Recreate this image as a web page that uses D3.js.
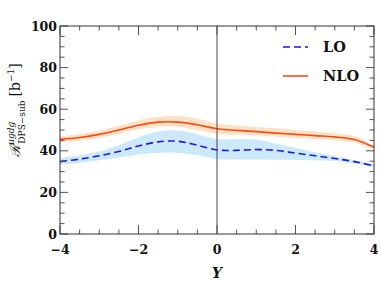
<!DOCTYPE html>
<html>
<head>
<meta charset="utf-8">
<script src="https://cdn.jsdelivr.net/npm/d3@7"></script>
<style>
  body { margin: 0; background: #fff; }
  text { font-family: "DejaVu Serif", serif; }
</style>
</head>
<body>
<div id="chart"></div>
<script>
// rapidity grid and values
var rapidity = [-4, -3.5, -3, -2.5, -2, -1.5, -1, -0.5, 0, 0.5, 1, 1.5, 2, 2.5, 3, 3.5, 4];

var loCentral = [34.8, 36.0, 37.6, 39.7, 42.3, 44.3, 44.6, 42.7, 40.4, 40.2, 40.6, 40.2, 38.9, 37.6, 36.3, 34.8, 32.7];
var loUpper   = [36.5, 37.9, 39.7, 42.7, 46.4, 49.3, 49.8, 48.0, 45.6, 45.5, 45.3, 43.5, 41.3, 39.3, 37.4, 35.6, 33.5];
var loLower   = [33.2, 34.2, 35.4, 36.8, 38.2, 39.1, 39.0, 38.0, 36.1, 35.8, 35.8, 35.7, 35.6, 35.4, 35.1, 34.0, 32.0];

var nloCentral = [45.5, 46.4, 47.9, 50.0, 52.3, 53.8, 53.8, 52.5, 50.6, 49.8, 49.2, 48.5, 47.9, 47.3, 46.7, 45.4, 41.7];
var nloUpper   = [47.0, 48.0, 49.7, 52.0, 54.6, 56.4, 56.7, 55.4, 53.1, 52.2, 51.5, 50.8, 50.0, 49.3, 48.4, 47.0, 42.6];
var nloLower   = [44.0, 44.8, 46.1, 48.2, 50.3, 51.6, 51.5, 50.0, 48.1, 47.7, 47.4, 46.8, 46.2, 45.7, 45.1, 44.0, 40.9];

var xTicks = [-4, -2, 0, 2, 4];
var yTicks = [0, 20, 40, 60, 80, 100];
var legendLabels = ["LO", "NLO"];

var margin = { top: 26, right: 7, bottom: 54, left: 60 };
var width = 381 - margin.left - margin.right,
    height = 288 - margin.top - margin.bottom;

var svg = d3.select("#chart").append("svg")
    .attr("width", 381)
    .attr("height", 288)
    .append("g")
    .attr("transform", "translate(" + margin.left + "," + margin.top + ")");

var x = d3.scaleLinear().domain([-4, 4]).range([0, width]);
var y = d3.scaleLinear().domain([0, 100]).range([height, 0]);

var pts = function (arr) { return arr.map(function (v, i) { return [rapidity[i], v]; }); };

var area = d3.area()
    .x(function (d, i) { return x(rapidity[i]); })
    .y0(function (d) { return y(d[0]); })
    .y1(function (d) { return y(d[1]); })
    .curve(d3.curveCatmullRom.alpha(0.5));

var line = d3.line()
    .x(function (d) { return x(d[0]); })
    .y(function (d) { return y(d[1]); })
    .curve(d3.curveCatmullRom.alpha(0.5));

// bands
svg.append("path")
    .datum(loLower.map(function (v, i) { return [v, loUpper[i]]; }))
    .attr("d", area)
    .attr("fill", "#cce8fb");

svg.append("path")
    .datum(nloLower.map(function (v, i) { return [v, nloUpper[i]]; }))
    .attr("d", area)
    .attr("fill", "#fde0c4")
    .attr("fill-opacity", 0.95);

// central lines
svg.append("path")
    .datum(pts(loCentral))
    .attr("d", line)
    .attr("fill", "none")
    .attr("stroke", "#1a1ae6")
    .attr("stroke-width", 1.6)
    .attr("stroke-dasharray", "7,4");

svg.append("path")
    .datum(pts(nloCentral))
    .attr("d", line)
    .attr("fill", "none")
    .attr("stroke", "#ff4a12")
    .attr("stroke-width", 1.6);

// zero line
svg.append("line")
    .attr("x1", x(0)).attr("x2", x(0))
    .attr("y1", 0).attr("y2", height)
    .attr("stroke", "#444")
    .attr("stroke-width", 1);

// ticks (inside, on all sides)
var tickColor = "#555";
var xMinor = d3.range(-4, 4.01, 0.5);
var yMinor = d3.range(0, 100.01, 5);

function isMajor(v, step) { return Math.abs(v / step - Math.round(v / step)) < 1e-6; }

svg.selectAll(".xtick-b").data(xMinor).enter().append("line")
    .attr("x1", function (d) { return x(d); }).attr("x2", function (d) { return x(d); })
    .attr("y1", height).attr("y2", function (d) { return height - (isMajor(d, 2) ? 9 : 4.5); })
    .attr("stroke", tickColor);
svg.selectAll(".xtick-t").data(xMinor).enter().append("line")
    .attr("x1", function (d) { return x(d); }).attr("x2", function (d) { return x(d); })
    .attr("y1", 0).attr("y2", function (d) { return isMajor(d, 2) ? 9 : 4.5; })
    .attr("stroke", tickColor);
svg.selectAll(".ytick-l").data(yMinor).enter().append("line")
    .attr("y1", function (d) { return y(d); }).attr("y2", function (d) { return y(d); })
    .attr("x1", 0).attr("x2", function (d) { return isMajor(d, 20) ? 8 : 4.5; })
    .attr("stroke", tickColor);
svg.selectAll(".ytick-r").data(yMinor).enter().append("line")
    .attr("y1", function (d) { return y(d); }).attr("y2", function (d) { return y(d); })
    .attr("x1", width).attr("x2", function (d) { return width - (isMajor(d, 20) ? 8 : 4.5); })
    .attr("stroke", tickColor);

// frame
svg.append("rect")
    .attr("width", width).attr("height", height)
    .attr("fill", "none")
    .attr("stroke", "#333")
    .attr("stroke-width", 1);

// tick labels
svg.selectAll(".xlab").data(xTicks).enter().append("text")
    .attr("x", function (d) { return x(d); })
    .attr("y", height + 20)
    .attr("text-anchor", "middle")
    .attr("font-size", 12.5)
    .attr("font-weight", "bold")
    .attr("fill", "#111")
    .text(function (d) { return d < 0 ? "\u2212" + Math.abs(d) : d; });

svg.selectAll(".ylab").data(yTicks).enter().append("text")
    .attr("x", -3)
    .attr("y", function (d) { return y(d) + 4.5; })
    .attr("text-anchor", "end")
    .attr("font-size", 12.5)
    .attr("font-weight", "bold")
    .attr("fill", "#111")
    .text(function (d) { return d; });

// axis titles
svg.append("text")
    .attr("x", x(0))
    .attr("y", height + 44)
    .attr("text-anchor", "middle")
    .attr("font-size", 14)
    .attr("font-weight", "bold")
    .attr("font-style", "italic")
    .attr("fill", "#111")
    .text("Y");

var ylab = svg.append("text")
    .attr("transform", "translate(-40," + (height / 2 - 20) + ") rotate(-90)")
    .attr("text-anchor", "middle")
    .attr("font-size", 14)
    .attr("fill", "#111");
ylab.append("tspan").attr("font-style", "italic").text("\u211B");
ylab.append("tspan").attr("font-size", 9).attr("font-style", "italic").attr("dy", -6).text("ugdg");
ylab.append("tspan").attr("font-size", 9).attr("dx", -22).attr("dy", 11).text("DPS\u2212sub");
ylab.append("tspan").attr("dx", 4).attr("dy", -5).text("[b");
ylab.append("tspan").attr("font-size", 9).attr("dy", -6).text("\u22121");
ylab.append("tspan").attr("dy", 6).text("]");

// legend
var legend = svg.append("g").attr("transform", "translate(" + (283 - margin.left) + "," + (47 - margin.top) + ")");
legendLabels.forEach(function (name, i) {
    var g = legend.append("g").attr("transform", "translate(0," + (i * 29) + ")");
    g.append("line")
        .attr("x1", 0).attr("x2", 25)
        .attr("stroke", i === 0 ? "#1a1ae6" : "#ff4a12")
        .attr("stroke-width", 1.6)
        .attr("stroke-dasharray", i === 0 ? "7,4" : null);
    g.append("text")
        .attr("x", 40)
        .attr("y", 5)
        .attr("font-size", 14.5)
        .attr("font-weight", "bold")
        .attr("fill", "#111")
        .text(name);
});
</script>
</body>
</html>
